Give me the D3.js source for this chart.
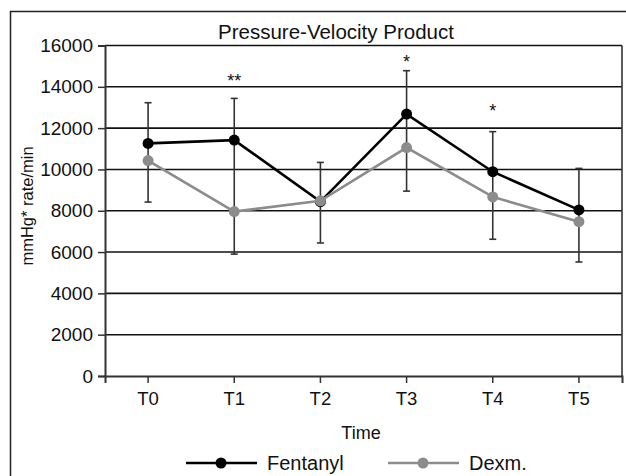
<!DOCTYPE html>
<html>
<head>
<meta charset="utf-8">
<script src="https://cdn.jsdelivr.net/npm/d3@7/dist/d3.min.js"></script>
<style>
  html, body { margin: 0; padding: 0; background: #fff; }
  svg { display: block; font-family: "Liberation Sans", Arial, sans-serif; }
</style>
</head>
<body>
<svg id="chart" width="626" height="476"></svg>
<script>
// ---- data ----
const categories = ["T0", "T1", "T2", "T3", "T4", "T5"];
const fentanyl = [11260, 11420, 8440, 12680, 9890, 8040];
const dexm = [10430, 7960, 8480, 11060, 8670, 7470];
const errUpper = [13230, 13440, 10340, 14780, 11830, 10050];
const errLower = [8420, 5900, 6440, 8950, 6620, 5520];
const sigMarks = ["", "**", "", "*", "*", ""];
const sigLevels = [0, 14420, 0, 15340, 12970, 0];
const yTicks = [0, 2000, 4000, 6000, 8000, 10000, 12000, 14000, 16000];
const seriesNames = ["Fentanyl", "Dexm."];
const seriesColors = ["#000000", "#8c8c8c"];
const chartTitle = "Pressure-Velocity Product";
const xTitle = "Time";
const yTitle = "mmHg* rate/min";

// ---- layout ----
const svg = d3.select("#chart");
const pL = 105, pR = 622, pT = 45.5, pB = 376;

const x = d3.scaleBand().domain(categories).range([pL, pR]).padding(0);
const xc = d => x(d) + x.bandwidth() / 2;
const y = d3.scaleLinear().domain([0, 16000]).range([pB, pT]);

// outer frame
svg.append("rect")
  .attr("x", 10.5).attr("y", 11.5)
  .attr("width", 640).attr("height", 500)
  .attr("fill", "none").attr("stroke", "#222").attr("stroke-width", 1.5);

// title
svg.append("text")
  .attr("x", 336).attr("y", 38.5)
  .attr("text-anchor", "middle")
  .attr("font-size", 20.5).attr("fill", "#111")
  .text(chartTitle);

// gridlines
svg.append("g").selectAll("line")
  .data(yTicks.filter(t => t > 0))
  .join("line")
  .attr("x1", pL).attr("x2", pR)
  .attr("y1", d => y(d)).attr("y2", d => y(d))
  .attr("stroke", "#111").attr("stroke-width", 1.6);

// right border of plot
svg.append("line")
  .attr("x1", pR).attr("x2", pR)
  .attr("y1", y(16000)).attr("y2", pB)
  .attr("stroke", "#333").attr("stroke-width", 1.6);

// y axis
const yAxis = svg.append("g")
  .attr("transform", `translate(${pL},0)`)
  .call(d3.axisLeft(y).tickValues(yTicks).tickSize(7).tickPadding(5).tickFormat(d3.format("d")));
yAxis.select(".domain").attr("stroke", "#333").attr("stroke-width", 2);
yAxis.selectAll(".tick line").attr("stroke", "#333").attr("stroke-width", 1.5);
yAxis.selectAll(".tick text")
  .attr("font-size", 19).attr("fill", "#111")
  .attr("font-family", "Liberation Sans, Arial, sans-serif");

// x axis
const xAxis = svg.append("g")
  .attr("transform", `translate(0,${pB})`)
  .call(d3.axisBottom(x).tickSize(7).tickPadding(9));
xAxis.select(".domain").attr("stroke", "#333").attr("stroke-width", 2);
xAxis.selectAll(".tick line").attr("stroke", "#333").attr("stroke-width", 1.5);
xAxis.selectAll(".tick text")
  .attr("font-size", 18.5).attr("fill", "#111")
  .attr("font-family", "Liberation Sans, Arial, sans-serif");

// axis titles
svg.append("text")
  .attr("x", 361).attr("y", 439)
  .attr("text-anchor", "middle")
  .attr("font-size", 18).attr("fill", "#111")
  .text(xTitle);

svg.append("text")
  .attr("transform", `translate(33,206) rotate(-90)`)
  .attr("text-anchor", "middle")
  .attr("font-size", 16.5).attr("fill", "#111")
  .text(yTitle);

// error bars
const eb = svg.append("g").attr("stroke", "#333").attr("stroke-width", 1.6);
categories.forEach((c, i) => {
  const cx = xc(c);
  eb.append("line").attr("x1", cx).attr("x2", cx).attr("y1", y(errUpper[i])).attr("y2", y(errLower[i]));
  eb.append("line").attr("x1", cx - 3.5).attr("x2", cx + 3.5).attr("y1", y(errUpper[i])).attr("y2", y(errUpper[i]));
  eb.append("line").attr("x1", cx - 3.5).attr("x2", cx + 3.5).attr("y1", y(errLower[i])).attr("y2", y(errLower[i]));
});

// series
const allSeries = [fentanyl, dexm];
const line = d3.line().x((d, i) => xc(categories[i])).y(d => y(d));
allSeries.forEach((vals, s) => {
  svg.append("path")
    .attr("d", line(vals))
    .attr("fill", "none")
    .attr("stroke", seriesColors[s])
    .attr("stroke-width", 2.6);
  svg.append("g").selectAll("circle")
    .data(vals)
    .join("circle")
    .attr("cx", (d, i) => xc(categories[i]))
    .attr("cy", d => y(d))
    .attr("r", 5.5)
    .attr("fill", seriesColors[s]);
});

// significance marks
svg.append("g").selectAll("text")
  .data(categories.map((c, i) => ({ c, m: sigMarks[i], v: sigLevels[i] })).filter(d => d.m))
  .join("text")
  .attr("x", d => xc(d.c))
  .attr("y", d => y(d.v) + 9)
  .attr("text-anchor", "middle")
  .attr("font-size", 18).attr("fill", "#111")
  .text(d => d.m);

// legend
const legendItems = [
  { name: seriesNames[0], color: seriesColors[0], x1: 186, x2: 257, cx: 221, tx: 267 },
  { name: seriesNames[1], color: seriesColors[1], x1: 388, x2: 459, cx: 423, tx: 469 }
];
const lg = svg.append("g");
legendItems.forEach(it => {
  lg.append("line").attr("x1", it.x1).attr("x2", it.x2).attr("y1", 463).attr("y2", 463)
    .attr("stroke", it.color).attr("stroke-width", 2.6);
  lg.append("circle").attr("cx", it.cx).attr("cy", 463).attr("r", 5.5).attr("fill", it.color);
  lg.append("text").attr("x", it.tx).attr("y", 470)
    .attr("font-size", 20).attr("fill", "#111").text(it.name);
});
</script>
</body>
</html>
